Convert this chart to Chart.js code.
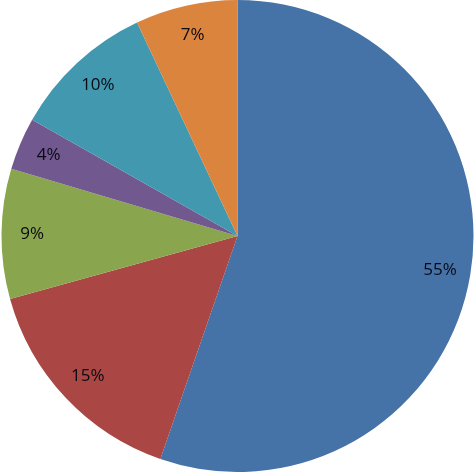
<!DOCTYPE html>
<html>
<head>
<meta charset="utf-8">
<script src="https://cdn.jsdelivr.net/npm/chart.js@4/dist/chart.umd.min.js"></script>
<style>
  html, body { margin: 0; padding: 0; background: #fff; }
  #wrap { width: 475px; height: 472px; }
</style>
</head>
<body>
<div id="wrap"><canvas id="myChartPie"></canvas></div>
<script>
// ── Datos ─────────────────────────────────────
const categories = ['A', 'B', 'C', 'D', 'E', 'F'];
const values = [55.3, 15.4, 8.9, 3.6, 9.8, 7.0];
const pctLabels = ['55%', '15%', '9%', '4%', '10%', '7%'];
const colors = ['#4572A7', '#AA4643', '#89A54E', '#71588F', '#4198AF', '#DB843D'];

// etiquetas dentro de cada porción
const sliceLabels = {
  id: 'sliceLabels',
  afterDatasetsDraw(chart) {
    const ctx = chart.ctx;
    const meta = chart.getDatasetMeta(0);
    ctx.save();
    ctx.font = '17px "Open Sans", "Liberation Sans", sans-serif';
    ctx.fillStyle = '#0a0a14';
    ctx.textAlign = 'center';
    ctx.textBaseline = 'middle';
    meta.data.forEach((arc, i) => {
      const mid = (arc.startAngle + arc.endAngle) / 2;
      const r = arc.outerRadius * 0.87;
      ctx.fillText(pctLabels[i], arc.x + Math.cos(mid) * r, arc.y + Math.sin(mid) * r);
    });
    ctx.restore();
  }
};

new Chart(document.getElementById('myChartPie').getContext('2d'), {
  type: 'pie',
  data: {
    labels: categories,
    datasets: [{
      data: values,
      backgroundColor: colors,
      borderWidth: 0
    }]
  },
  options: {
    responsive: true,
    maintainAspectRatio: false,
    animation: false,
    layout: { padding: 0 },
    plugins: {
      legend: { display: false },
      tooltip: { enabled: false }
    }
  },
  plugins: [sliceLabels]
});
</script>
</body>
</html>
